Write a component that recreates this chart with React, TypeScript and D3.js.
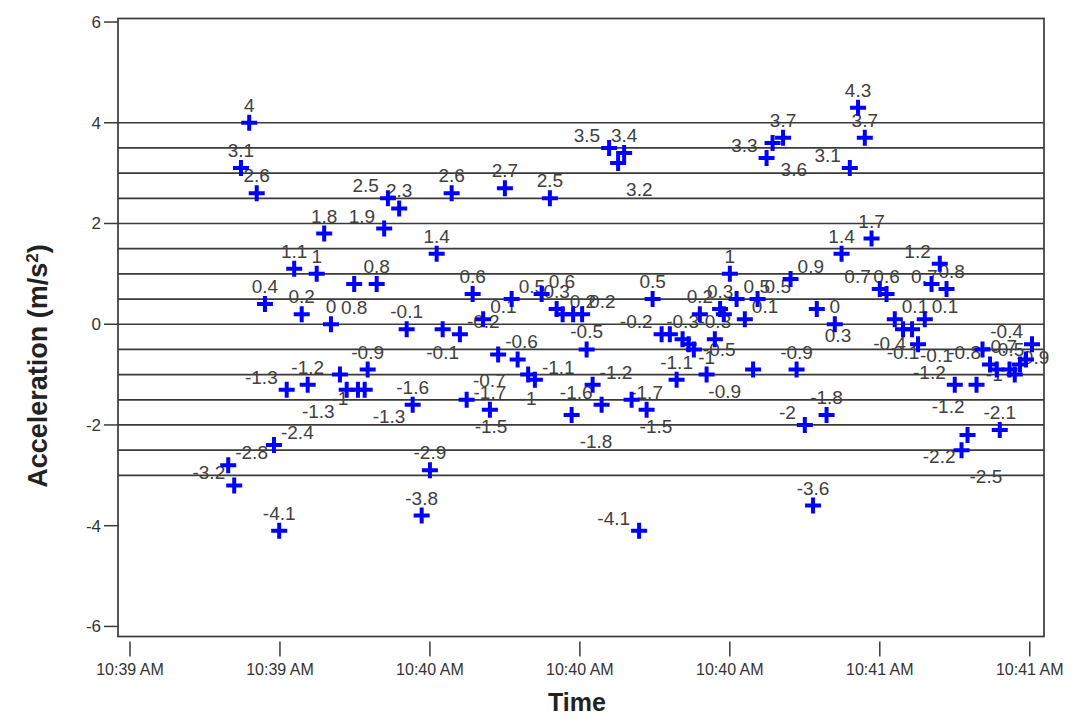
import * as d3 from 'd3';
import React from 'react';

// seconds after 10:39:00
const timeSec = [
  33.1, 33.9, 34.8, 35.9, 36.9, 38.0, 39.2, 39.9, 40.9, 41.9,
  42.9, 43.7, 44.9, 45.9, 46.8, 48.0, 48.9, 49.9, 50.4, 51.3,
  51.7, 52.9, 53.9, 54.4, 55.9, 56.9, 57.7, 58.9, 60.0, 60.9,
  61.7, 62.9, 64.0, 64.9, 65.7, 67.1, 68.0, 69.1, 70.0, 70.9,
  71.7, 73.1, 74.0, 74.9, 76.0, 76.9, 77.7, 78.9, 79.1, 80.3,
  80.9, 81.7, 82.9, 83.9, 85.1, 85.9, 86.9, 87.9, 88.9, 89.7,
  90.9, 92.0, 92.9, 93.7, 94.5, 95.2, 96.0, 96.9, 98.0, 98.7,
  99.2, 100.0, 100.9, 102.0, 103.1, 103.7, 104.9, 105.7, 107.1, 108.1,
  108.9, 110.0, 111.1, 111.6, 112.9, 114.0, 114.9, 116.0, 117.1, 118.0,
  118.9, 120.0, 120.9, 122.0, 123.1, 124.3, 125.1, 126.0, 126.9, 128.0,
  128.9, 130.0, 130.9, 131.7, 132.9, 133.7, 134.7, 135.6, 136.0, 137.3,
  138.0, 138.7, 139.5, 140.3,
];

// acceleration (m/s²)
const accel = [
  -2.8, -3.2, 3.1, 4, 2.6, 0.4, -2.4, -4.1, -1.3, 1.1,
  0.2, -1.2, 1, 1.8, 0, -1, -1.3, 0.8, -1.3, -1.3,
  -0.9, 0.8, 1.9, 2.5, 2.3, -0.1, -1.6, -3.8, -2.9, 1.4,
  -0.1, 2.6, -0.2, -1.5, 0.6, 0.1, -1.7, -0.6, 2.7, 0.5,
  -0.7, -1, -1.1, 0.6, 2.5, 0.3, 0.2, -1.8, 0.2, 0.2,
  -0.5, -1.2, -1.6, 3.5, 3.2, 3.4, -1.5, -4.1, -1.7, 0.5,
  -0.2, -0.2, -1.1, -0.3, -0.4, -0.5, 0.2, -1, -0.3, 0.3,
  0.2, 1, 0.5, 0.1, -0.9, 0.5, 3.3, 3.6, 3.7, 0.9,
  -0.9, -2, -3.6, 0.3, -1.8, 0, 1.4, 3.1, 4.3, 3.7,
  1.7, 0.7, 0.6, 0.1, -0.1, -0.1, -0.4, 0.1, 0.8, 1.2,
  0.7, -1.2, -2.5, -2.2, -1.2, -0.5, -0.8, -0.9, -2.1, -0.9,
  -1, -0.8, -0.7, -0.4,
];

// where the value label sits around its marker ('x' = hidden under other marks)
const labelPos = [
  'ne', 'nw', 'n', 'n', 'n', 'n', 'ne', 'n', 'nw', 'n',
  'n', 'n', 'n', 'n', 'n', 's', 'sw', 's', 'x', 'se',
  'n', 'n', 'nw', 'nw', 'n', 'n', 'n', 'n', 'n', 'n',
  's', 'n', 'ne', 'se', 'n', 'ne', 'n', 'ne', 'n', 'ne',
  'sw', 's', 'ne', 'ne', 'n', 'n', 'ne', 'se', 'x', 'ne',
  'n', 'ne', 'nw', 'nw', 'se', 'n', 'se', 'nw', 'n', 'n',
  'nw', 'x', 'n', 'n', 'x', 'e', 'n', 'n', 'n', 'n',
  'x', 'n', 'ne', 'ne', 'sw', 'ne', 'nw', 'se', 'n', 'ne',
  'n', 'nw', 'n', 'se', 'n', 'n', 'n', 'nw', 'n', 'n',
  'n', 'nw', 'n', 'ne', 's', 'se', 'w', 'ne', 'ne', 'nw',
  'nw', 'nw', 'se', 'sw', 'sw', 'e', 'nw', 'x', 'n', 'ne',
  'w', 'x', 'nw', 'nw',
];

const refLines = [4, 3.5, 3, 2.5, 2, 1.5, 1, 0.5, 0, -0.5, -1, -1.5, -2, -2.5, -3];
const yTicks = [6, 4, 2, 0, -2, -4, -6];
const xDomainSec = [18.4, 141.9];
const yDomain = [-6.2, 6.07];

const base = new Date(2000, 0, 1, 10, 39, 0).getTime();
const toDate = (s: number) => new Date(base + s * 1000);

const offsets: Record<string, { dx: number; dy: number; anchor: string }> = {
  n: { dx: 0, dy: -11, anchor: 'middle' },
  s: { dx: 0, dy: 30, anchor: 'middle' },
  ne: { dx: 7, dy: -6, anchor: 'start' },
  nw: { dx: -9, dy: -6, anchor: 'end' },
  se: { dx: 8, dy: 33, anchor: 'start' },
  sw: { dx: -12, dy: 28, anchor: 'end' },
  e: { dx: 9, dy: 7, anchor: 'start' },
  w: { dx: -12, dy: 6, anchor: 'end' },
};

const App: React.FC = () => {
  const width = 1080;
  const height = 719;
  const left = 118;
  const right = 1044;
  const top = 18.5;
  const bottom = 636.5;

  const x = d3.scaleTime().domain(xDomainSec.map(toDate)).range([left, right]);
  const y = d3.scaleLinear().domain(yDomain).range([bottom, top]);

  const xTicks = x.ticks(d3.timeSecond.every(20)!);
  const fmt = d3.timeFormat('%-I:%M %p');

  const points = timeSec.map((t, i) => ({ t: toDate(t), v: accel[i], pos: labelPos[i] }));
  const arm = 8;

  return (
    <svg
      width={width}
      height={height}
      style={{ position: 'absolute', left: 0, top: 0, background: '#fff', fontFamily: 'Arial, "Liberation Sans", sans-serif' }}
    >
      {/* reference lines */}
      {refLines.map((r) => (
        <line key={r} x1={left} x2={right} y1={y(r)} y2={y(r)} stroke="#3a3a3a" strokeWidth={1.7} />
      ))}

      {/* frame */}
      <rect x={left} y={top} width={right - left} height={bottom - top} fill="none" stroke="#3a3a3a" strokeWidth={1.7} />

      {/* y axis */}
      {yTicks.map((t) => (
        <g key={t}>
          <line x1={left - 14} x2={left} y1={y(t)} y2={y(t)} stroke="#3a3a3a" strokeWidth={1.5} />
          <text x={left - 17} y={y(t) + 6} textAnchor="end" fontSize={17} fill="#333">
            {t}
          </text>
        </g>
      ))}

      {/* x axis */}
      {xTicks.map((d) => (
        <g key={d.getTime()}>
          <line x1={x(d)} x2={x(d)} y1={bottom + 5} y2={bottom + 20} stroke="#3a3a3a" strokeWidth={1.5} />
          <text x={x(d)} y={bottom + 38} textAnchor="middle" fontSize={16} fill="#333">
            {fmt(d)}
          </text>
        </g>
      ))}

      {/* axis titles */}
      <text x={(left + right) / 2 - 4} y={711} textAnchor="middle" fontSize={25} fontWeight="bold" fill="#222">
        Time
      </text>
      <text
        transform={`translate(47,${366}) rotate(-90)`}
        textAnchor="middle"
        fontSize={27}
        fontWeight="bold"
        fill="#222"
      >
        Acceleration (m/s<tspan baselineShift="super" fontSize={17}>2</tspan>)
      </text>

      {/* value labels */}
      {points.map((p, i) => {
        if (p.pos === 'x') return null;
        const o = offsets[p.pos];
        return (
          <text
            key={`l${i}`}
            x={x(p.t) + o.dx}
            y={y(p.v) + o.dy}
            textAnchor={o.anchor}
            fontSize={19}
            fill="#404040"
          >
            {String(p.v)}
          </text>
        );
      })}

      {/* markers */}
      {points.map((p, i) => (
        <path
          key={`p${i}`}
          d={`M${x(p.t) - arm},${y(p.v)}H${x(p.t) + arm}M${x(p.t)},${y(p.v) - arm}V${y(p.v) + arm}`}
          stroke="#0000ff"
          strokeWidth={4}
        />
      ))}
    </svg>
  );
};

export default App;
